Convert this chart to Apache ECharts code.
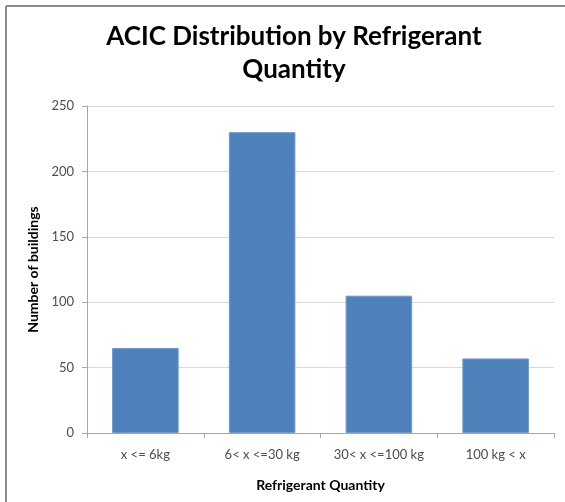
<!DOCTYPE html>
<html>
<head>
<meta charset="utf-8">
<script src="https://cdn.jsdelivr.net/npm/echarts@6/dist/echarts.min.js"></script>
<style>
  html, body { margin: 0; padding: 0; background: #fff; }
  #chart { width: 565px; height: 502px; }
</style>
</head>
<body>
<div id="chart"></div>
<script>
// Refrigerant quantity bands and the number of buildings in each
const categories = ['x <= 6kg', '6< x <=30 kg', '30< x <=100 kg', '100 kg < x'];
const buildingCounts = [65, 230, 105, 57];
const yTicks = [0, 50, 100, 150, 200, 250];

const chart = echarts.init(document.getElementById('chart'), null, { renderer: 'canvas' });
const fontFamily = 'Lato, "Open Sans", "Liberation Sans", sans-serif';

chart.setOption({
  animation: false,
  backgroundColor: '#ffffff',
  title: {
    text: 'ACIC Distribution by Refrigerant\nQuantity',
    left: 289,
    top: 15,
    textAlign: 'center',
    textStyle: {
      fontFamily: fontFamily,
      fontSize: 26,
      fontWeight: 'bold',
      color: '#000000',
      lineHeight: 33
    }
  },
  grid: { left: 87, right: 11, top: 106, bottom: 69, containLabel: false },
  xAxis: {
    type: 'category',
    data: categories,
    name: 'Refrigerant Quantity',
    nameLocation: 'middle',
    nameGap: 45,
    nameTextStyle: { fontFamily: fontFamily, fontSize: 14, fontWeight: 'bold', color: '#000' },
    axisLine: { lineStyle: { color: '#a6a6a6', width: 1 } },
    axisTick: { show: true, alignWithLabel: false, interval: 0, length: 5, lineStyle: { color: '#a6a6a6' } },
    axisLabel: { interval: 0, hideOverlap: false, fontFamily: fontFamily, fontSize: 13, color: '#4d4d4d', margin: 15 }
  },
  yAxis: {
    type: 'value',
    min: yTicks[0],
    max: yTicks[yTicks.length - 1],
    interval: yTicks[1] - yTicks[0],
    name: 'Number of buildings',
    nameLocation: 'middle',
    nameGap: 40,
    nameRotate: 90,
    nameTextStyle: { fontFamily: fontFamily, fontSize: 14, fontWeight: 'bold', color: '#000' },
    axisLine: { show: true, lineStyle: { color: '#a6a6a6', width: 1 } },
    axisTick: { show: true, length: 5, inside: false, lineStyle: { color: '#a6a6a6' } },
    axisLabel: { fontFamily: fontFamily, fontSize: 13, color: '#4d4d4d', margin: 13 },
    splitLine: { show: true, lineStyle: { color: '#d9d9d9', width: 1 } }
  },
  series: [{
    type: 'bar',
    data: buildingCounts,
    barWidth: '57%',
    itemStyle: { color: '#4f81bd', borderColor: '#6f97cc', borderWidth: 1 }
  }],
  graphic: [
    // frame along the top and left edges
    { type: 'line', shape: { x1: 6, y1: 6, x2: 565, y2: 6 }, style: { stroke: '#8c8c8c', lineWidth: 2 } },
    { type: 'line', shape: { x1: 6, y1: 6, x2: 6, y2: 502 }, style: { stroke: '#8c8c8c', lineWidth: 2 } }
  ]
});
</script>
</body>
</html>
